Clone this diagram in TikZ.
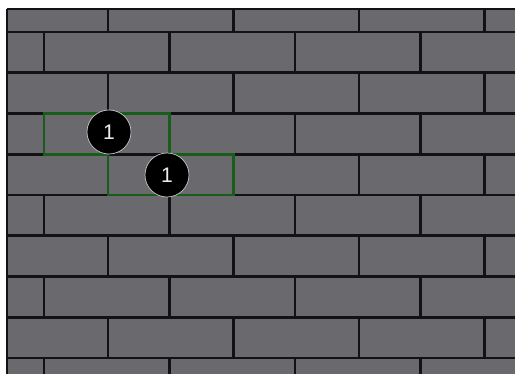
\documentclass[tikz,border=0pt]{standalone}
\usepackage{fontspec}
\usetikzlibrary{positioning}
\newfontfamily\marksans{Liberation Sans}

\definecolor{brickgray}{RGB}{106,106,110}
\definecolor{mortar}{RGB}{18,18,20}
\definecolor{hlgreen}{RGB}{24,94,26}

\begin{document}
\begin{tikzpicture}[x=0.02cm, y=-0.02cm,
  joint/.style={draw=mortar, line width=1.5pt},
  hl/.style={draw=hlgreen, line width=1.6pt},
  num/.style={circle, fill=black, draw=white!55!gray, line width=0.4pt, minimum size=0.88cm, inner sep=0pt, text=white!85!gray, font=\marksans\fontsize{12}{14}\selectfont}]
\useasboundingbox (0,0) rectangle (515,374);
\fill[brickgray] (7,9) rectangle (515,374);
% bed joints
\draw[joint] (7,9) -- (515,9);
\foreach \k in {0,...,8}
  \draw[joint] (7,32+40.75*\k) -- (515,32+40.75*\k);
\draw[joint] (7,9) -- (7,374);
% head joints, courses alternate
\foreach \t/\b/\s in {9/32/108, 32/72.75/44, 72.75/113.5/108, 113.5/154.25/44, 154.25/195/108,
    195/235.75/44, 235.75/276.5/108, 276.5/317.25/44, 317.25/358/108, 358/374/44}
  \foreach \i in {0,...,3}
    \draw[joint] (\s+125.5*\i,\t) -- (\s+125.5*\i,\b);
% marked bricks
\draw[hl] (108,154.25) -- (44,154.25) -- (44,113.5) -- (169.5,113.5) -- (169.5,154.25);
\draw[hl] (169.5,154.25) -- (233.5,154.25) -- (233.5,195) -- (108,195) -- (108,154.25);
\node[num] (markA) at (109,132) {1};
\node[num] (markB) at (167,175) {1};
\end{tikzpicture}
\end{document}
